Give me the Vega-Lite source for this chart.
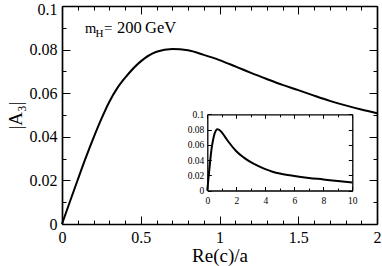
{
  "$schema": "https://vega.github.io/schema/vega-lite/v6.json",
  "width": 315,
  "height": 218,
  "autosize": "none",
  "padding": {"left": 62, "top": 6, "right": 5, "bottom": 42},
  "background": "white",
  "config": {
    "view": {"stroke": null},
    "axis": {
      "domainColor": "black", "domainWidth": 1.7, "tickColor": "black", "tickWidth": 1,
      "labelFont": "Liberation Serif, Times New Roman, DejaVu Serif, serif", "labelColor": "black",
      "titleFont": "Liberation Serif, Times New Roman, DejaVu Serif, serif",
      "titleColor": "black", "titleFontWeight": "normal", "grid": false,
      "labelOverlap": false, "labelFlush": false
    },
    "text": {"font": "Liberation Serif, Times New Roman, DejaVu Serif, serif", "color": "black", "align": "left", "baseline": "alphabetic"}
  },
  "datasets": {
    "main": [
      {"x": 0, "y": 0}, {"x": 0.05, "y": 0.0102}, {"x": 0.1, "y": 0.0203}, {"x": 0.15, "y": 0.0302},
      {"x": 0.2, "y": 0.0395}, {"x": 0.25, "y": 0.0482}, {"x": 0.3, "y": 0.0560}, {"x": 0.35, "y": 0.0622},
      {"x": 0.4, "y": 0.0670}, {"x": 0.5, "y": 0.0746}, {"x": 0.6, "y": 0.0790}, {"x": 0.7, "y": 0.0803},
      {"x": 0.8, "y": 0.0797}, {"x": 0.9, "y": 0.0776}, {"x": 1.0, "y": 0.0752}, {"x": 1.1, "y": 0.0723},
      {"x": 1.2, "y": 0.0693}, {"x": 1.3, "y": 0.0665}, {"x": 1.4, "y": 0.0638}, {"x": 1.5, "y": 0.0614},
      {"x": 1.6, "y": 0.0589}, {"x": 1.7, "y": 0.0565}, {"x": 1.8, "y": 0.0544}, {"x": 1.9, "y": 0.0525},
      {"x": 2.0, "y": 0.0508}
    ],
    "inset": [
      {"x": 0, "y": 0}, {"x": 0.1, "y": 0.020}, {"x": 0.2, "y": 0.039}, {"x": 0.3, "y": 0.0556},
      {"x": 0.4, "y": 0.0666}, {"x": 0.5, "y": 0.0745}, {"x": 0.7, "y": 0.0805}, {"x": 0.9, "y": 0.0785},
      {"x": 1.2, "y": 0.0710}, {"x": 1.5, "y": 0.0630}, {"x": 2, "y": 0.0515}, {"x": 2.5, "y": 0.0435},
      {"x": 3, "y": 0.0372}, {"x": 3.5, "y": 0.0322}, {"x": 4, "y": 0.0280}, {"x": 4.5, "y": 0.0247},
      {"x": 5, "y": 0.0222}, {"x": 6, "y": 0.0190}, {"x": 7, "y": 0.0165}, {"x": 8, "y": 0.0145},
      {"x": 9, "y": 0.0124}, {"x": 10, "y": 0.0105}
    ]
  },
  "layer": [
    {
      "data": {"name": "main"},
      "mark": {"type": "line", "color": "black", "strokeWidth": 2, "interpolate": "monotone"},
      "encoding": {
        "x": {"field": "x", "type": "quantitative", "scale": {"domain": [0, 2], "nice": false},
          "axis": {"orient": "bottom", "values": [0, 0.5, 1, 1.5, 2], "tickSize": -8, "labelPadding": 13,
            "labelFontSize": 16, "format": "~r", "title": "Re(c)/a", "titleFontSize": 19, "titlePadding": 1}},
        "y": {"field": "y", "type": "quantitative", "scale": {"domain": [0, 0.1], "nice": false},
          "axis": {"orient": "left", "values": [0, 0.02, 0.04, 0.06, 0.08, 0.1], "tickSize": -8, "labelPadding": 13,
            "labelFontSize": 16, "format": "~r", "title": "|A₃|", "titleFontSize": 19, "titlePadding": 4,
            "labelOffset": {"condition": {"test": "datum.value == 0.1", "value": 3}, "value": 0}}}
      }
    },
    {
      "data": {"name": "main"},
      "mark": {"type": "line", "opacity": 0},
      "encoding": {
        "x": {"field": "x", "type": "quantitative", "scale": {"domain": [0, 2], "nice": false},
          "axis": {"orient": "top", "values": [0, 0.5, 1, 1.5, 2], "tickSize": -8, "labels": false, "title": null}},
        "y": {"field": "y", "type": "quantitative", "scale": {"domain": [0, 0.1], "nice": false},
          "axis": {"orient": "right", "values": [0, 0.02, 0.04, 0.06, 0.08, 0.1], "tickSize": -8, "labels": false, "title": null}}
      }
    },
    {
      "data": {"name": "main"},
      "mark": {"type": "line", "opacity": 0},
      "encoding": {
        "x": {"field": "x", "type": "quantitative", "scale": {"domain": [0, 2], "nice": false},
          "axis": {"orient": "bottom", "values": [0.1, 0.2, 0.3, 0.4, 0.6, 0.7, 0.8, 0.9, 1.1, 1.2, 1.3, 1.4, 1.6, 1.7, 1.8, 1.9],
            "tickSize": -4, "labels": false, "domain": false, "title": null}},
        "y": {"field": "y", "type": "quantitative", "scale": {"domain": [0, 0.1], "nice": false},
          "axis": {"orient": "left", "values": [0.01, 0.03, 0.05, 0.07, 0.09], "tickSize": -4, "labels": false, "domain": false, "title": null}}
      }
    },
    {
      "data": {"name": "main"},
      "mark": {"type": "line", "opacity": 0},
      "encoding": {
        "x": {"field": "x", "type": "quantitative", "scale": {"domain": [0, 2], "nice": false},
          "axis": {"orient": "top", "values": [0.1, 0.2, 0.3, 0.4, 0.6, 0.7, 0.8, 0.9, 1.1, 1.2, 1.3, 1.4, 1.6, 1.7, 1.8, 1.9],
            "tickSize": -4, "labels": false, "domain": false, "title": null}},
        "y": {"field": "y", "type": "quantitative", "scale": {"domain": [0, 0.1], "nice": false},
          "axis": {"orient": "right", "values": [0.01, 0.03, 0.05, 0.07, 0.09], "tickSize": -4, "labels": false, "domain": false, "title": null}}
      }
    },
    {
      "data": {"name": "inset"},
      "mark": {"type": "line", "color": "black", "strokeWidth": 2, "interpolate": "monotone"},
      "encoding": {
        "x": {"field": "x", "type": "quantitative", "scale": {"domain": [0, 10], "nice": false, "range": [145.3, 290.3]},
          "axis": {"orient": "bottom", "offset": -33.5, "values": [0, 2, 4, 6, 8, 10], "tickSize": -4, "labelPadding": 9,
            "labelFontSize": 9.5, "format": "~r", "title": null, "domainWidth": 1.3}},
        "y": {"field": "y", "type": "quantitative", "scale": {"domain": [0, 0.1], "nice": false, "range": [184.5, 108.3]},
          "axis": {"orient": "left", "offset": -145.3, "values": [0, 0.02, 0.04, 0.06, 0.08, 0.1], "tickSize": -4, "labelPadding": 7.5,
            "labelFontSize": 9.5, "format": "~r", "title": null, "domainWidth": 1.3}}
      }
    },
    {
      "data": {"name": "inset"},
      "mark": {"type": "line", "opacity": 0},
      "encoding": {
        "x": {"field": "x", "type": "quantitative", "scale": {"domain": [0, 10], "nice": false, "range": [145.3, 290.3]},
          "axis": {"orient": "top", "offset": -108.3, "values": [0, 2, 4, 6, 8, 10], "tickSize": -4, "labels": false, "title": null, "domainWidth": 1.3}},
        "y": {"field": "y", "type": "quantitative", "scale": {"domain": [0, 0.1], "nice": false, "range": [184.5, 108.3]},
          "axis": {"orient": "right", "offset": -24.7, "values": [0, 0.02, 0.04, 0.06, 0.08, 0.1], "tickSize": -4, "labels": false, "title": null, "domainWidth": 1.3}}
      }
    },
    {
      "data": {"name": "inset"},
      "mark": {"type": "line", "opacity": 0},
      "encoding": {
        "x": {"field": "x", "type": "quantitative", "scale": {"domain": [0, 10], "nice": false, "range": [145.3, 290.3]},
          "axis": {"orient": "bottom", "offset": -33.5, "values": [1, 3, 5, 7, 9], "tickSize": -2.5, "labels": false, "domain": false, "title": null}},
        "y": {"field": "y", "type": "quantitative", "scale": {"domain": [0, 0.1], "nice": false, "range": [184.5, 108.3]}, "axis": null}
      }
    },
    {
      "data": {"name": "inset"},
      "mark": {"type": "line", "opacity": 0},
      "encoding": {
        "x": {"field": "x", "type": "quantitative", "scale": {"domain": [0, 10], "nice": false, "range": [145.3, 290.3]},
          "axis": {"orient": "top", "offset": -108.3, "values": [1, 3, 5, 7, 9], "tickSize": -2.5, "labels": false, "domain": false, "title": null}},
        "y": {"field": "y", "type": "quantitative", "scale": {"domain": [0, 0.1], "nice": false, "range": [184.5, 108.3]}, "axis": null}
      }
    },
    {
      "data": {"values": [{}]},
      "encoding": {
        "x": {"datum": 0.146, "type": "quantitative", "scale": {"domain": [0, 2], "nice": false}, "axis": null},
        "y": {"datum": 0.0875, "type": "quantitative", "scale": {"domain": [0, 0.1], "nice": false}, "axis": null}
      },
      "layer": [
        {"mark": {"type": "text", "text": "m", "fontSize": 14.5}},
        {"mark": {"type": "text", "text": "H", "fontSize": 11, "dx": 10.5, "dy": 3.5}},
        {"mark": {"type": "text", "text": "=", "fontSize": 15, "dx": 19}},
        {"mark": {"type": "text", "text": "200", "fontSize": 16.5, "dx": 32}},
        {"mark": {"type": "text", "text": "GeV", "fontSize": 16.5, "dx": 60}}
      ]
    }
  ],
  "resolve": {"scale": {"x": "independent", "y": "independent"}, "axis": {"x": "independent", "y": "independent"}}
}
